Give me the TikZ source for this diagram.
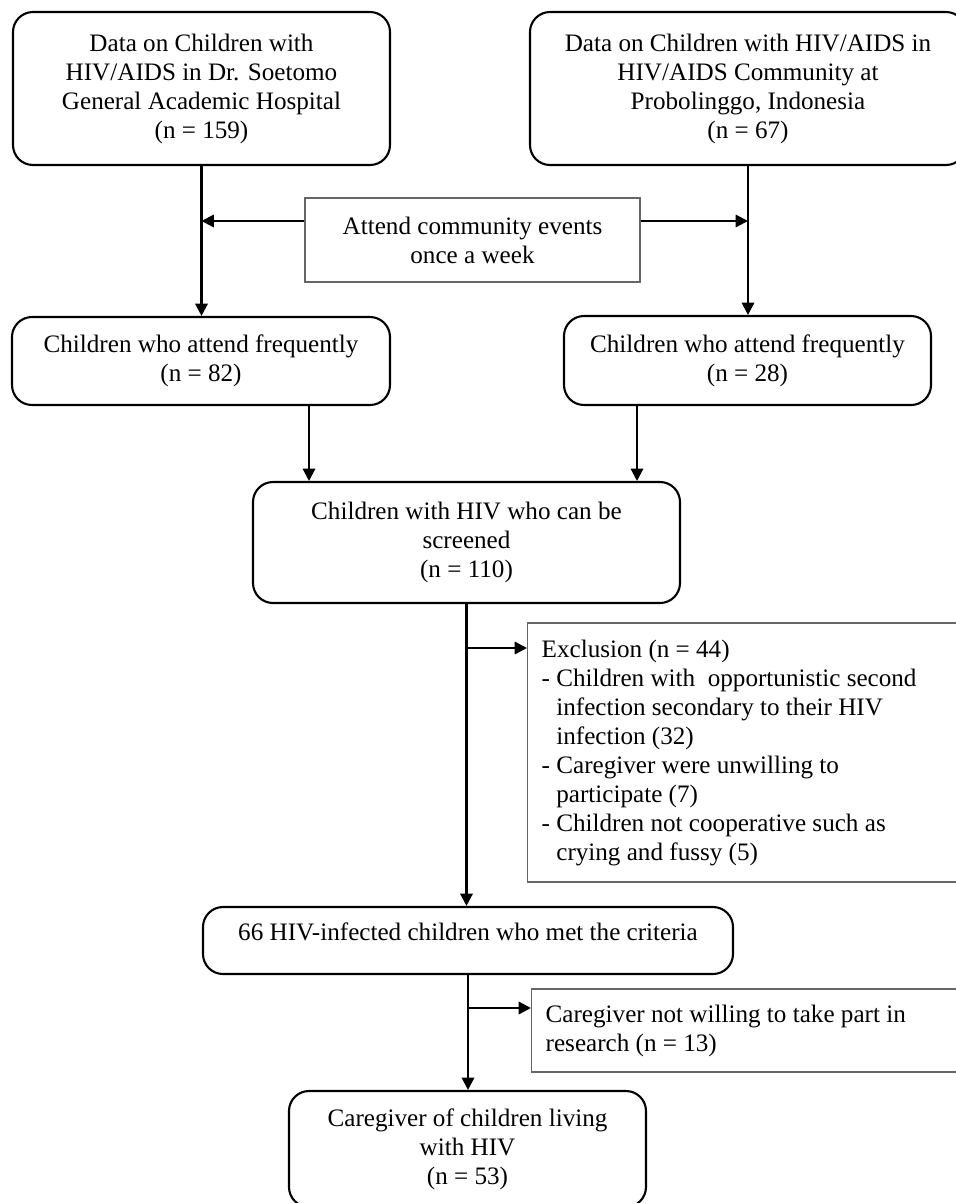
\documentclass[tikz,border=0pt]{standalone}
\usepackage{fontspec}
\setmainfont{Liberation Serif}
\usetikzlibrary{arrows.meta}

\begin{document}
\begin{tikzpicture}[
  round node/.style={rectangle,draw,rounded corners=0.4cm,line width=1.2pt,align=center,inner sep=0pt,font=\fontsize{14.3}{16.5}\selectfont},
  plain node/.style={rectangle,draw=black!60,line width=0.8pt,inner sep=0pt,font=\fontsize{14.3}{16.5}\selectfont},
  flow/.style={-{Triangle[length=7pt,width=7pt]},line width=1.3pt}]

  \useasboundingbox (0,0) rectangle (19.12,-24.06);
  \clip (0,0) rectangle (19.12,-24.06);

  \node[round node,minimum width=7.54cm,minimum height=3.06cm] (1) at (4.03,-1.77)
    {Data on Children with\\HIV/AIDS in Dr. Soetomo\\General Academic Hospital\\(n = 159)};
  \node[round node,minimum width=8.72cm,minimum height=3.06cm] (2) at (14.96,-1.77)
    {Data on Children with HIV/AIDS in\\HIV/AIDS Community at\\Probolinggo, Indonesia\\(n = 67)};
  \node[plain node,align=center,minimum width=6.7cm,minimum height=1.68cm] (3) at (9.45,-4.8)
    {Attend community events\\once a week};
  \node[round node,minimum width=7.56cm,minimum height=1.76cm] (4) at (4.02,-7.22)
    {Children who attend frequently\\(n = 82)};
  \node[round node,minimum width=7.34cm,minimum height=1.78cm] (5) at (14.95,-7.21)
    {Children who attend frequently\\(n = 28)};
  \node[round node,minimum width=8.54cm,minimum height=2.42cm] (6) at (9.33,-10.85)
    {Children with HIV who can be\\screened\\(n = 110)};
  \node[plain node,anchor=west,align=flush left,text width=8.4cm,inner xsep=0.28cm,minimum height=5.18cm] (7) at (10.54,-15.05)
    {Exclusion (n = 44)\\
     - Children with~ opportunistic second\\
     \hphantom{- }infection secondary to their HIV\\
     \hphantom{- }infection (32)\\
     - Caregiver were unwilling to\\
     \hphantom{- }participate (7)\\
     - Children not cooperative such as\\
     \hphantom{- }crying and fussy (5)};
  \node[round node,minimum width=10.6cm,minimum height=1.34cm,text height=0.4cm,text depth=0.4cm] (8) at (9.36,-18.81)
    {66 HIV-infected children who met the criteria};
  \node[plain node,anchor=west,align=flush left,text width=8.4cm,inner xsep=0.28cm,minimum height=1.66cm] (9) at (10.62,-20.61)
    {Caregiver not willing to take part in\\research (n = 13)};
  \node[round node,minimum width=7.14cm,minimum height=2.32cm] (10) at (9.35,-22.98)
    {Caregiver of children living\\with HIV\\(n = 53)};

  \coordinate (j1) at (6.south |- 0,-12.96);
  \coordinate (j2) at (8.south |- 0,-20.16);

  \draw[flow] (1.south) -- (1.south |- 4.north);
  \draw[flow] (2.south) -- (2.south |- 5.north);
  \draw[flow] ([yshift=0.38cm]3.west) -- ([yshift=0.38cm]3.west -| 1.south);
  \draw[flow] ([yshift=0.38cm]3.east) -- ([yshift=0.38cm]3.east -| 2.south);
  \draw[flow] ([xshift=2.16cm]4.south) -- ([xshift=2.16cm]4.south |- 6.north);
  \draw[flow] ([xshift=-2.21cm]5.south) -- ([xshift=-2.21cm]5.south |- 6.north);
  \draw[flow] (6.south) -- (6.south |- 8.north);
  \draw[flow] (j1) -- (j1 -| 7.west);
  \draw[flow] (8.south) -- (8.south |- 10.north);
  \draw[flow] (j2) -- (j2 -| 9.west);
\end{tikzpicture}
\end{document}
